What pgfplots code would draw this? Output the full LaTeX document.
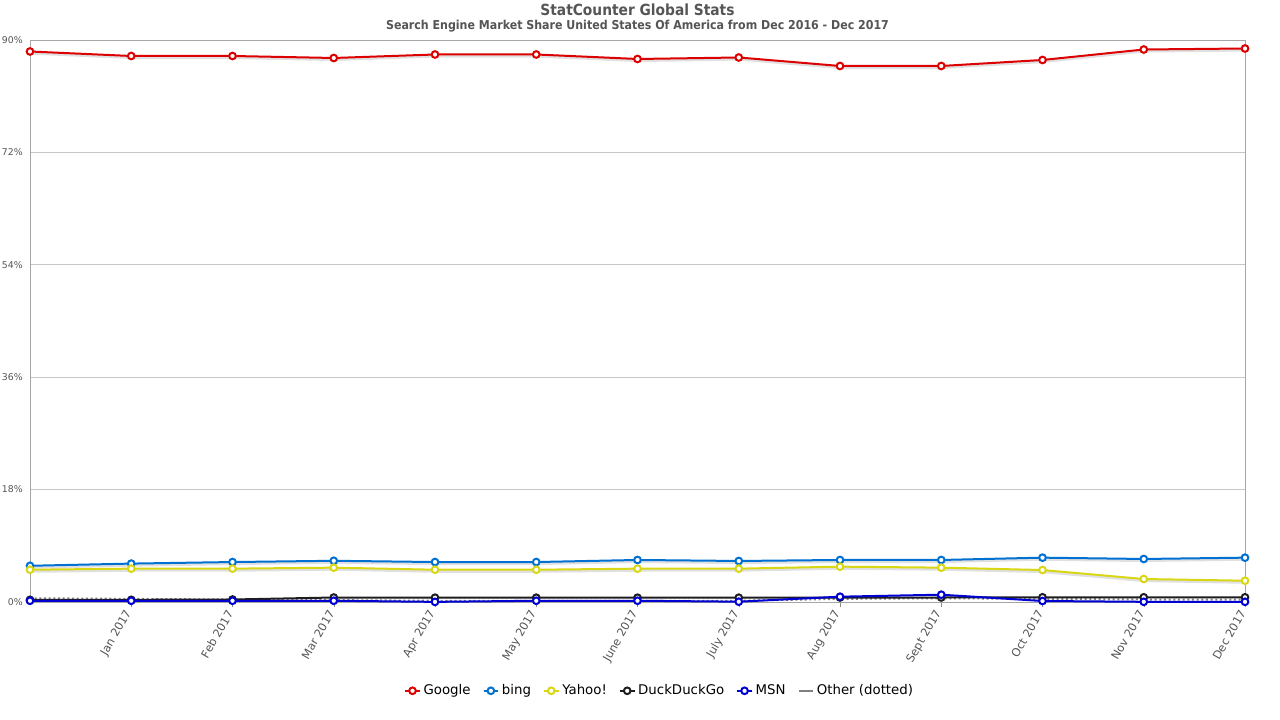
\documentclass[border=0pt]{standalone}
\usepackage{pgfplots}
\pgfplotsset{compat=1.18}
\usepackage{fontspec}
\setmainfont{DejaVu Sans}
\newfontfamily\condfont{DejaVu Sans Condensed}
\definecolor{cgoogle}{RGB}{220,0,0}
\definecolor{cbing}{RGB}{0,112,210}
\definecolor{cyahoo}{RGB}{215,215,20}
\definecolor{cddg}{RGB}{30,30,30}
\definecolor{cmsn}{RGB}{0,0,210}
\definecolor{cother}{RGB}{128,128,128}
\definecolor{txt}{RGB}{85,85,85}
\pgfplotstableread{
x google bing yahoo ddg msn other
0 88.16 5.8 5.17 0.35 0.2 0.6
1 87.44 6.15 5.34 0.35 0.2 0.5
2 87.44 6.4 5.34 0.4 0.2 0.4
3 87.12 6.6 5.5 0.72 0.2 0.3
4 87.68 6.4 5.17 0.69 0.02 0.2
5 87.68 6.4 5.17 0.69 0.2 0.2
6 86.96 6.73 5.34 0.69 0.2 0.2
7 87.2 6.57 5.34 0.69 0.05 0.2
8 85.84 6.73 5.66 0.72 0.85 0.5
9 85.84 6.73 5.5 0.72 1.17 0.6
10 86.8 7.1 5.12 0.75 0.16 0.5
11 88.48 6.89 3.68 0.75 0.03 0.4
12 88.64 7.1 3.41 0.75 0.03 0.4
}\data
\usepackage{pgfplotstable}
\begin{document}
\begin{tikzpicture}
\begin{axis}[
  scale only axis,
  width=911.25pt, height=421.5pt,
  xmin=0, xmax=12, ymin=0, ymax=90,
  clip=false,
  xtick={1,2,3,4,5,6,7,8,9,10,11,12},
  xticklabels={Jan 2017,Feb 2017,Mar 2017,Apr 2017,May 2017,June 2017,July 2017,Aug 2017,Sept 2017,Oct 2017,Nov 2017,Dec 2017},
  xticklabel style={rotate=60, anchor=east, font=\fontsize{8.5}{10}\selectfont, text=txt},
  ytick={0,18,36,54,72,90},
  yticklabel={\pgfmathprintnumber{\tick}\%},
  yticklabel style={font=\fontsize{7}{8}\selectfont, text=txt, xshift=2pt},
  /pgf/number format/assume math mode=true,
  ymajorgrids, grid style={draw=black!22, line width=0.6pt},
  axis line style={draw=black!35, line width=0.7pt},
  tick style={draw=black!45},
  major tick length=4pt,
  ytick style={draw=none},
  tick align=outside,
  xtick pos=bottom,
  legend columns=6,
  legend style={at={(0.5185,-0.158)}, anchor=center, draw=none, fill=none,
    font=\fontsize{10}{12}\selectfont,
    /tikz/every even column/.append style={column sep=7pt}},
  legend image code/.code={\draw[#1] (0pt,0pt) -- (11pt,0pt); \draw[#1,mark repeat=2,mark phase=2] plot coordinates {(0pt,0pt)(5.5pt,0pt)(11pt,0pt)};},
  every axis plot/.append style={line width=1.5pt, mark=*, mark size=2.5pt, mark options={solid, fill=white, line width=0.75pt}},
  shadow/.style={black, opacity=0.12, line width=2.2pt, no markers, forget plot, yshift=-1.2pt},
]
\addplot[shadow] table[y=google] {\data};
\addplot[shadow] table[y=bing] {\data};
\addplot[shadow] table[y=yahoo] {\data};
\addplot[cother, dotted, no markers, line width=1.5pt, forget plot] table[y=other] {\data};
\addplot[cgoogle, mark options={fill=white}] table[y=google] {\data};
\addlegendentry{Google}
\addplot[cbing, mark options={fill=white}] table[y=bing] {\data};
\addlegendentry{bing}
\addplot[cyahoo, mark options={fill=white}] table[y=yahoo] {\data};
\addlegendentry{Yahoo!}
\addplot[cddg, mark options={fill=white}] table[y=ddg] {\data};
\addlegendentry{DuckDuckGo}
\addplot[cmsn, mark options={fill=white}] table[y=msn] {\data};
\addlegendentry{MSN}
\addlegendimage{legend image code/.code={\draw[cother, line width=1.5pt] (0pt,0pt) -- (11pt,0pt);}}
\addlegendentry{Other (dotted)}
\end{axis}
\node[text=txt, font=\condfont\bfseries\fontsize{11.5}{13}\selectfont] at (455.6pt,444.5pt) {StatCounter Global Stats};
\node[text=txt, font=\condfont\bfseries\fontsize{9.2}{11}\selectfont] at (455.6pt,431.5pt) {Search Engine Market Share United States Of America from Dec 2016 - Dec 2017};
\pgfresetboundingbox
\path (-22.5pt,-88.5pt) rectangle (937.5pt,451.5pt);
\end{tikzpicture}
\end{document}
